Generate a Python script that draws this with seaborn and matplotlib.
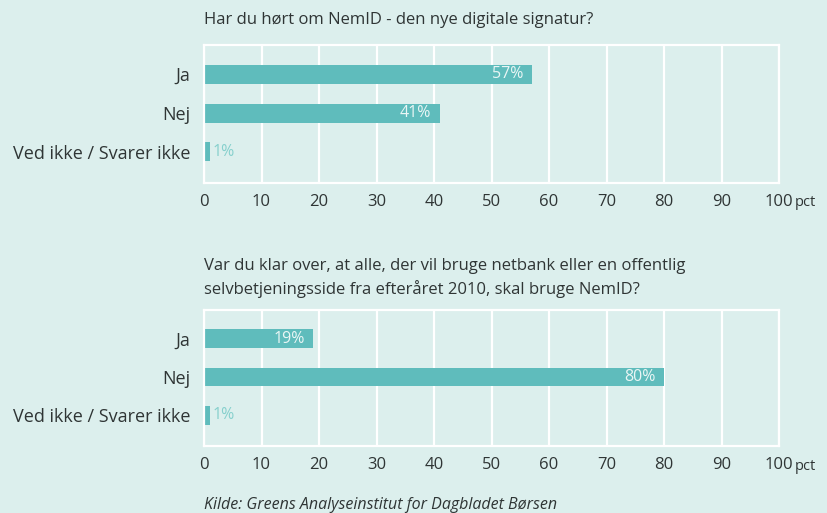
import numpy as np
import pandas as pd
import seaborn as sns
import matplotlib.pyplot as plt

sns.set_style('white')
plt.rcParams['font.family'] = ['Open Sans', 'DejaVu Sans']

# data
categories = ['Ja', 'Nej', 'Ved ikke / Svarer ikke']
q1_values = [57, 41, 1]
q2_values = [19, 80, 1]
q1_title = 'Har du hørt om NemID - den nye digitale signatur?'
q2_title = ('Var du klar over, at alle, der vil bruge netbank eller en offentlig\n'
            'selvbetjeningsside fra efteråret 2010, skal bruge NemID?')
ticks = [0, 10, 20, 30, 40, 50, 60, 70, 80, 90, 100]
source = 'Kilde: Greens Analyseinstitut for Dagbladet Børsen'

bg = '#dcefed'
bar_col = '#5fbcbc'
text_col = '#2f3535'

W, H = 827, 513
fig = plt.figure(figsize=(W / 100, H / 100), dpi=100, facecolor=bg)


def panel(top, bottom, values, title, title_y):
    ax = fig.add_axes([204 / W, 1 - bottom / H, (779 - 204) / W, (bottom - top) / H])
    ax.set_facecolor(bg)
    df = pd.DataFrame({'cat': categories, 'val': values})
    sns.barplot(data=df, x='val', y='cat', color=bar_col, saturation=1,
                width=0.49, linewidth=0, ax=ax)
    ax.set_xlim(0, 100)
    ax.set_ylim(2.8, -0.75)
    ax.set_xticks(ticks)
    ax.set_xticklabels([str(t) for t in ticks])
    ax.grid(axis='x', color='white', linewidth=1.6)
    ax.set_axisbelow(True)
    for s in ax.spines.values():
        s.set_color('white')
        s.set_linewidth(1.6)
    ax.tick_params(axis='x', length=0, pad=8, labelsize=12, labelcolor=text_col)
    ax.tick_params(axis='y', length=0, pad=10, labelsize=13, labelcolor=text_col)
    ax.set_xlabel('')
    ax.set_ylabel('')
    ax.annotate('pct', xy=(100, 0), xycoords=ax.get_xaxis_transform(),
                xytext=(11.5, -9), textcoords='offset points',
                ha='left', va='top', fontsize=10.5, color=text_col)
    for i, v in enumerate(values):
        if v > 5:
            ax.text(v - 1.5, i, f'{v}%', ha='right', va='center',
                    fontsize=11.5, color='#eaf6f5')
        else:
            ax.text(v + 0.4, i, f'{v}%', ha='left', va='center',
                    fontsize=11.5, color='#86d0cd')
    fig.text(204 / W, 1 - title_y / H, title, ha='left', va='center',
             fontsize=12, color=text_col, linespacing=1.4)
    return ax


panel(45, 183, q1_values, q1_title, 20)
panel(310, 446, q2_values, q2_title, 278)

fig.text(204 / W, 1 - 505 / H, source, ha='left', va='center',
         fontsize=11.5, style='italic', color=text_col)

plt.savefig('out.png', dpi=100, facecolor=bg)
